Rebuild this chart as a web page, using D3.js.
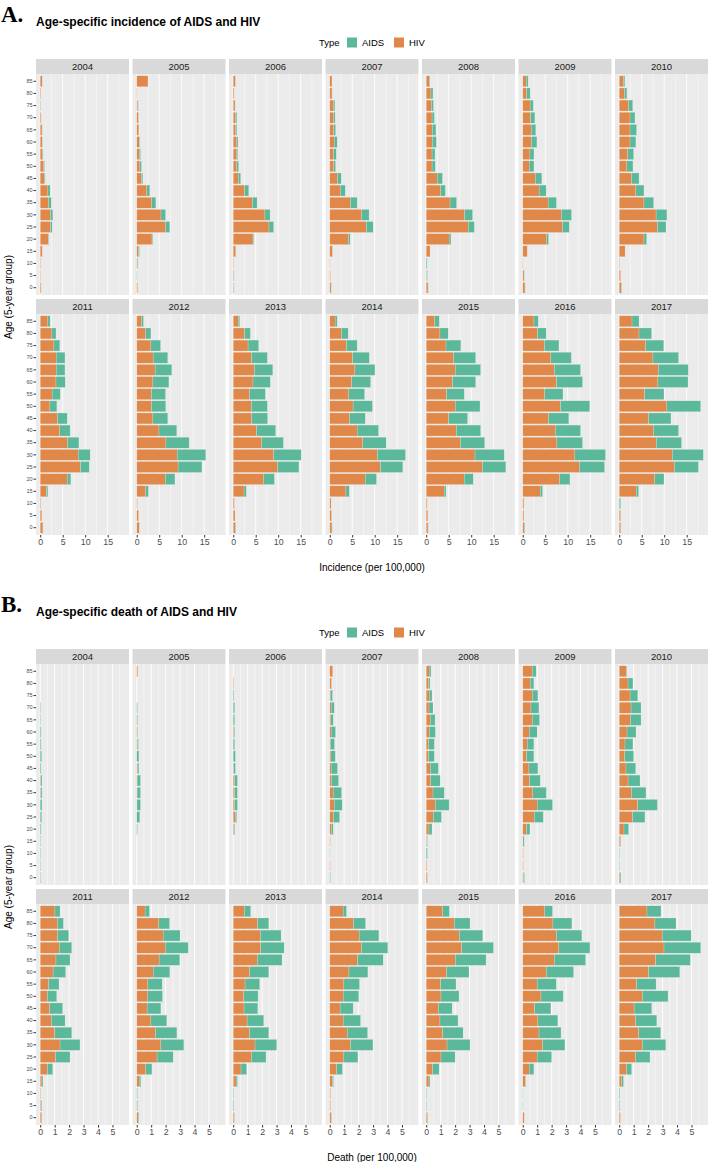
<!DOCTYPE html>
<html>
<head>
<meta charset="utf-8">
<script src="https://cdn.jsdelivr.net/npm/d3@7"></script>
<style>
  body { margin: 0; background: #fff; }
  text { font-family: "Liberation Sans", Arial, sans-serif; }
</style>
</head>
<body>
<div id="chart"></div>
<script>
// age groups (bottom to top) and facet years
const ages = [0, 5, 10, 15, 20, 25, 30, 35, 40, 45, 50, 55, 60, 65, 70, 75, 80, 85];
const years = [2004, 2005, 2006, 2007, 2008, 2009, 2010, 2011, 2012, 2013, 2014, 2015, 2016, 2017];
const types = ["AIDS", "HIV"];
const xTicksA = [0, 5, 10, 15];
const xTicksB = [0, 1, 2, 3, 4, 5];

// incidence per 100,000, one row per year, ages 0..85
const incidenceHIV = [
  [0.2,0.1,0.1,0.45,1.8,2.3,2.3,1.9,1.7,0.95,0.8,0.55,0.45,0.4,0.2,0.1,0.15,0.45],
  [0.2,0,0.15,0.4,3.4,6.4,5.4,3.35,2.25,1.05,0.7,0.6,0.55,0.45,0.35,0.25,0.1,2.5],
  [0.1,0.1,0.1,0.55,4.4,7.95,7.05,4.25,2.55,1.15,0.8,0.8,0.8,0.55,0.55,0.4,0.2,0.45],
  [0.3,0.15,0.1,0.6,4.2,8.15,7.1,4.6,2.35,1.75,0.9,0.85,1.0,0.9,0.85,0.85,0.5,0.5],
  [0.4,0.1,0,0.85,5.1,9.35,8.55,5.3,3.2,2.45,1.3,1.3,1.35,1.35,1.3,1.15,1.05,0.7],
  [0.5,0.3,0.1,1.0,5.35,8.85,8.6,5.65,3.65,2.8,1.45,1.6,1.95,1.9,1.75,1.65,0.9,0.8],
  [0.5,0.3,0.1,1.3,5.5,8.5,8.2,5.5,3.7,2.75,1.7,1.9,2.4,2.4,2.4,2.1,1.2,0.95],
  [0.6,0.35,0.15,1.4,6.0,8.95,8.45,6.05,4.35,3.85,2.15,2.65,3.5,3.55,3.55,3.05,2.6,1.7],
  [0.55,0.4,0.15,2.0,6.35,9.2,9.0,6.5,4.95,3.6,3.3,3.3,3.6,4.1,3.65,3.15,2.0,1.05],
  [0.5,0.4,0.25,2.4,6.8,9.85,9.0,6.35,5.2,4.1,4.05,3.65,4.4,4.7,4.1,3.3,2.55,1.15],
  [0.5,0.4,0.3,3.6,7.9,11.3,10.6,7.35,6.1,4.4,5.2,4.25,4.9,5.6,5.1,3.75,2.6,1.2],
  [0.4,0.35,0.2,4.0,8.45,12.5,10.85,7.6,6.7,5.0,6.45,4.55,5.85,6.45,6.1,4.4,3.05,1.9],
  [0.4,0.25,0.25,3.9,8.2,12.6,11.6,7.6,7.25,5.75,8.4,4.9,7.5,7.05,6.25,4.85,3.3,2.5],
  [0.35,0.3,0,3.8,7.9,12.25,11.8,8.25,7.6,6.55,10.6,5.65,8.6,8.7,7.5,5.9,4.4,2.85]
];
const incidenceAIDS = [
  [0,0,0,0,0.1,0.35,0.5,0.55,0.5,0.15,0.15,0.1,0.05,0.05,0,0.05,0,0],
  [0,0.1,0.15,0.2,0.15,0.95,1.0,0.9,0.65,0.3,0.35,0.25,0.15,0,0.05,0.1,0,0],
  [0.1,0.1,0,0,0.15,1.05,1.15,1.05,0.9,0.5,0.4,0.2,0.25,0.25,0.25,0.05,0,0.05],
  [0.05,0,0,0,0.35,1.5,1.65,1.5,1.1,0.8,0.4,0.6,0.65,0.4,0.35,0.3,0.05,0],
  [0.05,0.15,0.2,0,0.4,1.35,1.75,1.45,1.05,1.15,0.7,0.65,0.9,0.8,0.5,0.45,0.45,0.15],
  [0.05,0.05,0,0,0.4,1.5,2.25,1.85,1.55,1.45,1.05,0.9,1.2,1.0,0.95,0.7,0.75,0.4],
  [0.05,0,0,0,0.6,1.9,2.4,2.15,1.8,1.65,1.35,1.3,1.3,1.45,1.1,0.9,0.5,0.3],
  [0.05,0,0,0.3,0.8,1.95,2.65,2.55,2.3,2.15,1.55,1.8,2.05,1.95,1.95,1.3,0.9,0.5],
  [0.05,0,0,0.6,2.15,5.3,6.35,5.15,3.95,3.3,3.15,3.1,3.55,3.7,3.25,2.15,1.15,0.45],
  [0.1,0,0,0.5,2.35,4.75,6.1,4.8,4.25,3.55,3.55,3.5,3.85,4.1,3.5,2.35,1.25,0.3],
  [0.05,0,0,0.75,2.5,4.95,6.25,5.2,4.75,3.5,4.3,3.5,4.2,4.45,3.7,2.35,1.5,0.45],
  [0.05,0,0,0.4,2.0,5.2,6.5,5.4,5.4,4.2,5.5,3.9,5.15,5.65,4.9,3.3,1.85,1.0],
  [0.1,0,0,0.5,2.3,5.6,6.8,5.7,5.6,4.5,6.5,4.05,5.8,5.8,4.55,3.2,1.9,0.95],
  [0.05,0,0.3,0.5,2.05,5.35,6.9,5.6,5.6,4.95,7.5,4.3,6.7,6.65,5.7,4.0,2.8,1.55]
];

// deaths per 100,000
const deathHIV = [
  [0,0,0,0,0,0,0,0.03,0.03,0,0,0,0,0,0,0,0,0],
  [0,0,0,0,0,0,0.02,0.03,0.03,0.06,0,0.05,0.04,0.04,0,0,0,0.07],
  [0,0,0,0,0.05,0.15,0.1,0.1,0.1,0.03,0,0,0.05,0,0,0,0.04,0],
  [0,0.04,0,0.04,0.12,0.26,0.31,0.24,0.12,0.1,0.08,0.05,0.1,0.08,0.1,0.05,0.12,0.2],
  [0.08,0.05,0,0.04,0.19,0.49,0.63,0.47,0.31,0.28,0.17,0.17,0.21,0.28,0.19,0.21,0.17,0.21],
  [0.06,0.04,0.04,0.02,0.27,0.8,1.0,0.7,0.47,0.43,0.27,0.31,0.45,0.66,0.57,0.66,0.52,0.66],
  [0.06,0,0,0.1,0.33,0.93,1.28,0.84,0.61,0.47,0.38,0.4,0.54,0.77,0.82,0.75,0.61,0.51],
  [0.1,0.05,0.04,0.12,0.49,1.07,1.37,1.0,0.77,0.66,0.49,0.59,0.89,1.09,1.32,1.21,1.19,1.02],
  [0.1,0.04,0,0.17,0.63,1.41,1.67,1.3,0.98,0.72,0.77,0.77,1.14,1.55,1.97,1.83,1.53,0.58],
  [0.08,0,0,0.2,0.54,1.26,1.51,1.12,0.96,0.75,0.73,0.82,1.14,1.67,1.9,1.88,1.69,0.77],
  [0.1,0.05,0.05,0.19,0.49,0.98,1.44,1.21,0.93,0.72,0.93,0.98,1.33,1.93,2.2,2.04,1.65,0.93],
  [0.1,0,0,0.19,0.45,1.02,1.44,1.14,0.95,0.84,1.02,1.0,1.41,2.01,2.45,2.29,1.94,1.14],
  [0.1,0,0,0.2,0.45,1.0,1.38,1.13,1.05,0.82,1.26,1.0,1.63,2.18,2.5,2.34,2.09,1.53],
  [0.08,0,0,0.17,0.51,1.14,1.6,1.35,1.14,1.03,1.6,1.21,2.03,2.52,3.1,2.97,2.47,1.92]
];
const deathAIDS = [
  [0.04,0.04,0.04,0.04,0.06,0.1,0.12,0.09,0.09,0.06,0.1,0.06,0.06,0.03,0.03,0,0,0],
  [0,0,0,0,0.05,0.21,0.24,0.23,0.23,0.09,0.15,0.07,0.04,0.04,0.05,0,0,0],
  [0,0,0,0,0.05,0.09,0.19,0.19,0.19,0.12,0.15,0.1,0.05,0.1,0.1,0.05,0,0],
  [0.05,0,0.03,0,0.12,0.42,0.55,0.58,0.49,0.44,0.3,0.28,0.3,0.16,0.21,0.14,0,0],
  [0,0,0.08,0.04,0.21,0.56,0.95,0.78,0.66,0.56,0.39,0.39,0.42,0.33,0.28,0.19,0.09,0.12],
  [0.06,0,0,0.08,0.23,0.62,1.06,0.93,0.74,0.62,0.5,0.46,0.55,0.5,0.55,0.39,0.25,0.27],
  [0.06,0.03,0.03,0.02,0.32,0.85,1.36,1.01,0.83,0.67,0.62,0.55,0.62,0.74,0.69,0.53,0.34,0.03],
  [0,0.05,0,0.07,0.37,0.99,1.38,1.18,0.95,0.89,0.65,0.71,0.87,0.97,0.86,0.76,0.41,0.35],
  [0.05,0.04,0.05,0.11,0.42,1.11,1.59,1.48,1.1,0.95,1.01,0.99,1.15,1.43,1.59,1.17,0.74,0.3],
  [0,0.05,0.04,0.09,0.39,1.01,1.5,1.34,1.15,0.95,0.99,1.01,1.32,1.71,1.62,1.43,0.77,0.44],
  [0.02,0,0,0.07,0.39,0.97,1.55,1.41,1.2,0.9,1.08,1.08,1.31,1.77,1.82,1.36,0.83,0.23],
  [0.02,0.04,0.04,0.07,0.44,0.98,1.59,1.41,1.25,0.95,1.25,1.06,1.55,2.13,2.2,1.62,1.09,0.46],
  [0,0.03,0.03,0.02,0.32,1.0,1.54,1.52,1.38,1.13,1.54,1.32,1.89,2.17,2.15,1.75,1.31,0.53],
  [0,0.05,0.05,0.12,0.35,0.99,1.62,1.52,1.46,1.22,1.78,1.34,2.16,2.4,2.54,2.01,1.46,0.97]
];

const colors = { AIDS: "#5CB89B", HIV: "#E0884A" };

const W = 709, H = 1162;
const svg = d3.select("#chart").append("svg")
  .attr("width", W).attr("height", H);

// facet grid geometry
const colX0 = 36, colStep = 96.5, panelW = 93, panelH = 221, stripH = 15;
const rowTops = [74, 314];

function drawBlock(cfg) {
  const g = svg.append("g").attr("transform", `translate(0,${cfg.top})`);

  g.append("text")
    .attr("x", 1).attr("y", 22)
    .style("font-family", "'Liberation Serif', 'Times New Roman', serif")
    .attr("font-weight", "bold").attr("font-size", 23)
    .text(cfg.letter);

  g.append("text")
    .attr("x", 36).attr("y", 26)
    .attr("font-weight", "bold").attr("font-size", 12)
    .text(cfg.title);

  // legend
  const lg = g.append("g").attr("transform", "translate(319,0)");
  lg.append("text").attr("x", 0).attr("y", 46).attr("font-size", 9.5).text("Type");
  const keyX = { AIDS: 28, HIV: 75 };
  types.forEach(t => {
    lg.append("rect").attr("x", keyX[t]).attr("y", 37.5)
      .attr("width", 10).attr("height", 10).attr("fill", colors[t]);
    lg.append("text").attr("x", keyX[t] + 15).attr("y", 46)
      .attr("font-size", 9.5).text(t);
  });

  const x = d3.scaleLinear()
    .domain([-0.05 * cfg.xMax, 1.05 * cfg.xMax])
    .range([0, panelW]);
  const y = d3.scaleBand()
    .domain(ages)
    .range([panelH, 0])
    .paddingInner(0.1)
    .paddingOuter(0.15);

  const minorTicks = d3.range(cfg.minorStep / 2, cfg.xMax * 1.05, cfg.minorStep);
  const stack = d3.stack().keys(["HIV", "AIDS"]);

  years.forEach((yr, i) => {
    const row = Math.floor(i / 7), col = i % 7;
    const px = colX0 + col * colStep, py = rowTops[row];

    // strip
    g.append("rect").attr("x", px).attr("y", py - stripH)
      .attr("width", panelW).attr("height", stripH).attr("fill", "#D9D9D9");
    g.append("text").attr("x", px + panelW / 2).attr("y", py - 4.3)
      .attr("text-anchor", "middle").attr("font-size", 9.5).attr("fill", "#1A1A1A")
      .text(yr);

    const p = g.append("g").attr("transform", `translate(${px},${py})`);
    p.append("rect").attr("width", panelW).attr("height", panelH).attr("fill", "#EBEBEB");

    p.selectAll("line.minor").data(minorTicks).join("line")
      .attr("class", "minor")
      .attr("x1", d => x(d)).attr("x2", d => x(d))
      .attr("y1", 0).attr("y2", panelH)
      .attr("stroke", "#fff").attr("stroke-width", 0.45);
    p.selectAll("line.major").data(cfg.ticks).join("line")
      .attr("class", "major")
      .attr("x1", d => x(d)).attr("x2", d => x(d))
      .attr("y1", 0).attr("y2", panelH)
      .attr("stroke", "#fff").attr("stroke-width", 0.9);

    const rows = ages.map((a, j) => ({ age: a, HIV: cfg.hiv[i][j], AIDS: cfg.aids[i][j] }));
    const series = stack(rows);

    p.selectAll("g.series").data(series).join("g")
      .attr("class", "series")
      .attr("fill", d => colors[d.key])
      .selectAll("rect").data(d => d).join("rect")
        .attr("x", d => x(d[0]))
        .attr("width", d => Math.max(0, x(d[1]) - x(d[0])))
        .attr("y", d => y(d.data.age))
        .attr("height", y.bandwidth())
        .attr("stroke", "#ffffff").attr("stroke-opacity", 0.45).attr("stroke-width", 0.4);

    // y axis on first column
    if (col === 0) {
      const ya = p.append("g").call(d3.axisLeft(y).tickSize(2.5).tickPadding(1));
      ya.select(".domain").remove();
      ya.selectAll(".tick line").attr("stroke", "#333");
      ya.selectAll(".tick text").attr("fill", "#4D4D4D")
        .attr("font-size", 5.5).style("font-family", "'Liberation Sans', Arial, sans-serif");
    }
    // x axis on bottom row
    if (row === 1) {
      const xa = p.append("g").attr("transform", `translate(0,${panelH})`)
        .call(d3.axisBottom(x).tickValues(cfg.ticks).tickFormat(d3.format("d"))
          .tickSize(2.5).tickPadding(1.5));
      xa.select(".domain").remove();
      xa.selectAll(".tick line").attr("stroke", "#333");
      xa.selectAll(".tick text").attr("fill", "#4D4D4D")
        .attr("font-size", 8.8).style("font-family", "'Liberation Sans', Arial, sans-serif");
    }
  });

  // axis titles
  g.append("text")
    .attr("x", 372).attr("y", 571)
    .attr("text-anchor", "middle").attr("font-size", 10)
    .text(cfg.xTitle);
  g.append("text")
    .attr("transform", `translate(11.5,297) rotate(-90)`)
    .attr("text-anchor", "middle").attr("font-size", 10)
    .text("Age (5-year group)");
}

drawBlock({
  top: 0, letter: "A.",
  title: "Age-specific incidence of AIDS and HIV",
  xTitle: "Incidence (per 100,000)",
  hiv: incidenceHIV, aids: incidenceAIDS,
  xMax: 18.8, ticks: xTicksA, minorStep: 5
});

drawBlock({
  top: 590, letter: "B.",
  title: "Age-specific death of AIDS and HIV",
  xTitle: "Death (per 100,000)",
  hiv: deathHIV, aids: deathAIDS,
  xMax: 5.85, ticks: xTicksB, minorStep: 1
});
</script>
</body>
</html>
